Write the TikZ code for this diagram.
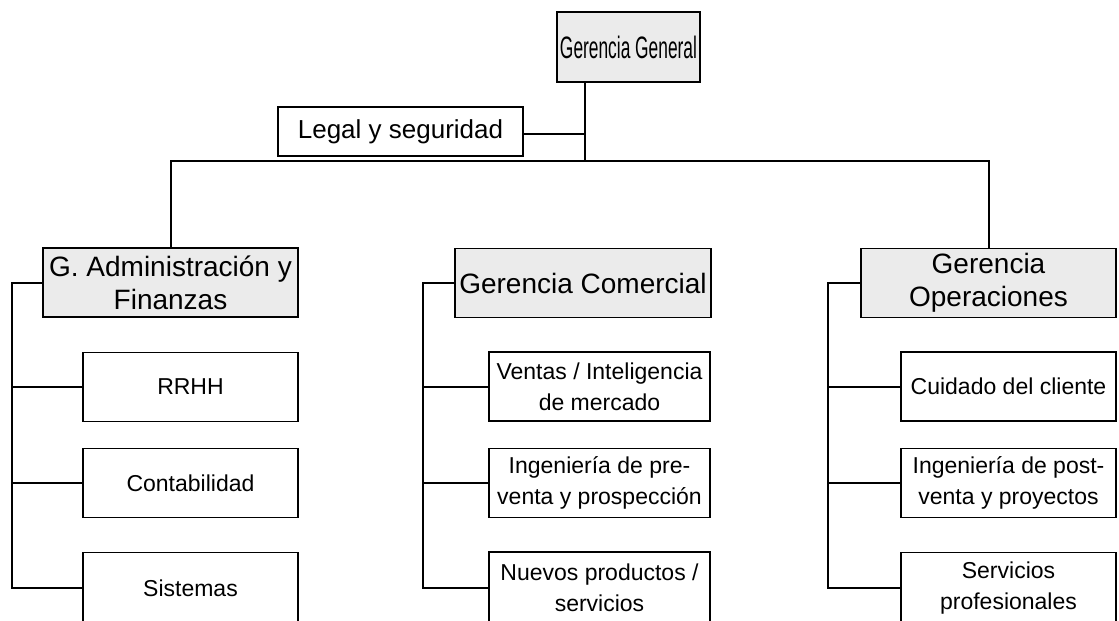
\documentclass[tikz,border=0pt]{standalone}
\usepackage{fontspec}
\setmainfont{Liberation Sans}
\usepackage{graphicx}
\begin{document}
\begin{tikzpicture}[x=1pt,y=-1pt,
  every node/.style={inner sep=0pt, align=center},
  unit/.style={draw=black, line width=1.9pt, fill=white,
    font=\fontsize{23}{31}\selectfont, minimum width=215pt, minimum height=69pt},
  head/.style={draw=black, line width=1.9pt, fill=gray!16,
    font=\fontsize{28}{33}\selectfont, minimum height=69pt},
  link/.style={draw=black, line width=2pt},
]
\useasboundingbox (0,0) rectangle (1119,621);
\clip (0,0) rectangle (1119,621);

% top level
\node[head, minimum width=143pt, minimum height=70pt] (gg) at (628.5,47)
  {\fontsize{31}{33}\selectfont\scalebox{0.56}[1]{Gerencia General}};
\node[unit, minimum width=245pt, minimum height=49pt,
  font=\fontsize{26}{30}\selectfont] (legal) at (400.5,131.5)
  {Legal y seguridad};

% second level
\node[head, minimum width=255pt] (ga) at (170.5,282.5)
  {G. Administración y\\Finanzas};
\node[head, minimum width=256pt] (gc) at (583,283)
  {Gerencia Comercial};
\node[head, minimum width=255pt] (go) at (988.5,283)
  {Gerencia\\Operaciones};

% administration units
\node[unit] (rrhh) at (190.5,387) {RRHH};
\node[unit] (cont) at (190.5,483) {Contabilidad};
\node[unit, minimum height=71pt] (sis) at (190.5,588) {Sistemas};

% commercial units
\node[unit, minimum width=221pt] (ven) at (599.5,386.5) {Ventas / Inteligencia\\de mercado};
\node[unit, minimum width=221pt] (ipre) at (599.5,483) {Ingeniería de pre-\\venta y prospección};
\node[unit, minimum width=221pt, minimum height=71pt] (nue) at (599.5,587.5) {Nuevos productos /\\servicios};

% operations units
\node[unit] (cui) at (1008.5,386.5) {Cuidado del cliente};
\node[unit] (ipost) at (1008.5,483) {Ingeniería de post-\\venta y proyectos};
\node[unit, minimum height=71pt] (ser) at (1008.5,588) {Servicios\\profesionales};

% trunk and bus
\coordinate (trunk) at (585,134);
\coordinate (bus) at (585,161);
\draw[link] (gg.south -| trunk) -- (bus);
\draw[link] (legal.east |- trunk) -- (trunk);
\draw[link] (ga.north) -- (ga.north |- bus) -- (go.north |- bus) -- (go.north);

% branch rails
\coordinate (ra) at (12,0);
\coordinate (rc) at (423,0);
\coordinate (ro) at (828,0);

\draw[link] (ga.west) -| (ra |- sis.west) -- (sis.west);
\draw[link] (rrhh.west) -- (rrhh.west -| ra);
\draw[link] (cont.west) -- (cont.west -| ra);

\draw[link] (gc.west) -| (rc |- nue.west) -- (nue.west);
\draw[link] (ven.west) -- (ven.west -| rc);
\draw[link] (ipre.west) -- (ipre.west -| rc);

\draw[link] (go.west) -| (ro |- ser.west) -- (ser.west);
\draw[link] (cui.west) -- (cui.west -| ro);
\draw[link] (ipost.west) -- (ipost.west -| ro);
\end{tikzpicture}
\end{document}
